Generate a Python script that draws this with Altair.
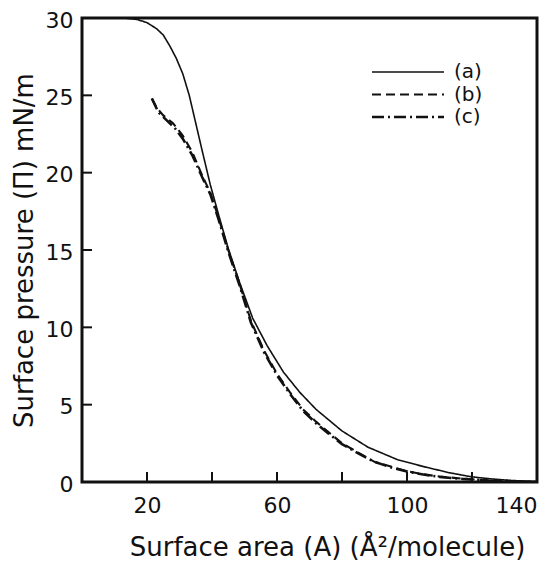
import altair as alt
import pandas as pd

# curve (a) solid
xa = [13, 17, 20, 23, 25, 27, 29, 31, 33, 35, 37, 39.5, 42, 45, 48.5, 52.5, 57, 62, 67, 72, 80, 88, 97, 105, 113, 120, 126, 132, 140]
ya = [30, 29.9, 29.7, 29.3, 28.9, 28.2, 27.4, 26.4, 25.0, 23.2, 21.4, 19.2, 17.3, 15.1, 12.9, 10.6, 8.8, 7.1, 5.8, 4.7, 3.3, 2.25, 1.45, 1.0, 0.6, 0.33, 0.2, 0.1, 0.02]
# curve (b) dashed
xb = [21.5, 23, 25, 28, 31, 34, 37, 39.5, 42, 45, 48.5, 52, 56, 60, 64, 68, 72, 76, 80, 85, 90, 95, 100, 105, 110, 117, 125, 132, 140]
yb = [24.8, 24.2, 23.7, 23.2, 22.4, 21.3, 19.8, 18.7, 17.1, 15.0, 12.8, 10.4, 8.5, 7.0, 5.8, 4.7, 3.9, 3.2, 2.5, 1.9, 1.3, 1.0, 0.7, 0.5, 0.35, 0.22, 0.1, 0.05, 0.0]
# curve (c) dash-dot
xc = [21.5, 23.5, 26, 28.5, 31, 34, 37, 39.5, 42, 45, 48.5, 52, 56, 60, 64, 68, 72, 76, 80, 85, 90, 95, 100, 105, 110, 117, 125, 132, 140]
yc = [24.8, 23.9, 23.4, 22.9, 22.2, 21.1, 19.7, 18.6, 17.0, 14.9, 12.7, 10.3, 8.4, 6.9, 5.7, 4.6, 3.8, 3.1, 2.45, 1.85, 1.3, 0.95, 0.68, 0.48, 0.33, 0.2, 0.1, 0.05, 0.0]

series = ["(a)", "(b)", "(c)"]
x_ticks = [20, 40, 60, 80, 100, 120]
x_labels = [20, 60, 100, 140]
y_ticks = [0, 5, 10, 15, 20, 25, 30]

rows = []
for name, xs, ys in zip(series, [xa, xb, xc], [ya, yb, yc]):
    for i, (x, y) in enumerate(zip(xs, ys)):
        rows.append({"series": name, "area": x, "pressure": y, "order": i})
df = pd.DataFrame(rows)

W, H = 455, 464
FONT = "DejaVu Sans"
INK = "#111"
WEIGHT = "normal"

xscale = alt.Scale(domain=[0, 140], nice=False, zero=False)
yscale = alt.Scale(domain=[0, 30], nice=False)
dash_scale = alt.Scale(domain=series, range=[[1, 0], [9, 5], [12, 4, 2, 4]])
width_scale = alt.Scale(domain=series, range=[1.6, 2.6, 2.6])

lines = alt.Chart(df).mark_line(color=INK, clip=True).encode(
    x=alt.X("area:Q", scale=xscale,
            axis=alt.Axis(title="Surface area (A) (Å²/molecule)", values=x_labels,
                          ticks=False, domain=False, grid=False,
                          labelFontSize=22, labelPadding=13, labelColor=INK,
                          labelFontWeight=WEIGHT,
                          titleFontSize=26, titleFontWeight=WEIGHT, titleColor=INK,
                          titlePadding=18, titleX=245, labelFont=FONT, titleFont=FONT)),
    y=alt.Y("pressure:Q", scale=yscale,
            axis=alt.Axis(title="Surface pressure (Π) mN/m", values=y_ticks,
                          ticks=False, domain=False, grid=False,
                          labelFontSize=22, labelPadding=9, labelColor=INK,
                          labelFontWeight=WEIGHT, labelOffset=2,
                          titleFontSize=26, titleFontWeight=WEIGHT, titleColor=INK,
                          titlePadding=8, labelFont=FONT, titleFont=FONT)),
    strokeDash=alt.StrokeDash("series:N", scale=dash_scale, legend=None),
    strokeWidth=alt.StrokeWidth("series:N", scale=width_scale, legend=None),
    order="order:Q",
)

ytick_df = pd.DataFrame({"v": y_ticks[1:-1]})
yticks = alt.Chart(ytick_df).mark_rule(color=INK, strokeWidth=2).encode(
    y=alt.Y("v:Q", scale=yscale), x=alt.value(0), x2=alt.value(10))
xtick_df = pd.DataFrame({"v": x_ticks})
xticks = alt.Chart(xtick_df).mark_rule(color=INK, strokeWidth=2).encode(
    x=alt.X("v:Q", scale=xscale), y=alt.value(H), y2=alt.value(H - 10))

# legend (keys drawn as real marks in a corner of the plot)
leg_df = pd.DataFrame({"series": series, "row": [0, 1, 2]})
leg_base = alt.Chart(leg_df).transform_calculate(ypx="54 + datum.row * 22.5")
leg_lines = leg_base.mark_rule(color=INK).encode(
    x=alt.value(290), x2=alt.value(362),
    y=alt.Y("ypx:Q", scale=None),
    strokeDash=alt.StrokeDash("series:N", scale=dash_scale, legend=None),
    strokeWidth=alt.StrokeWidth("series:N", scale=width_scale, legend=None),
)
leg_text = leg_base.mark_text(align="left", baseline="middle", font=FONT,
                              fontSize=20, fontWeight=WEIGHT, color=INK).encode(
    x=alt.value(372), y=alt.Y("ypx:Q", scale=None), text="series:N")

chart = alt.layer(lines, yticks, xticks, leg_lines, leg_text).properties(
    width=W, height=H,
    autosize=alt.AutoSizeParams(type="none"),
    padding={"left": 74, "top": 10, "right": 12, "bottom": 82},
).configure(background="white").configure_view(stroke=INK, strokeWidth=3)

chart.save("out.html", embed_options={"renderer": "svg", "actions": False})
